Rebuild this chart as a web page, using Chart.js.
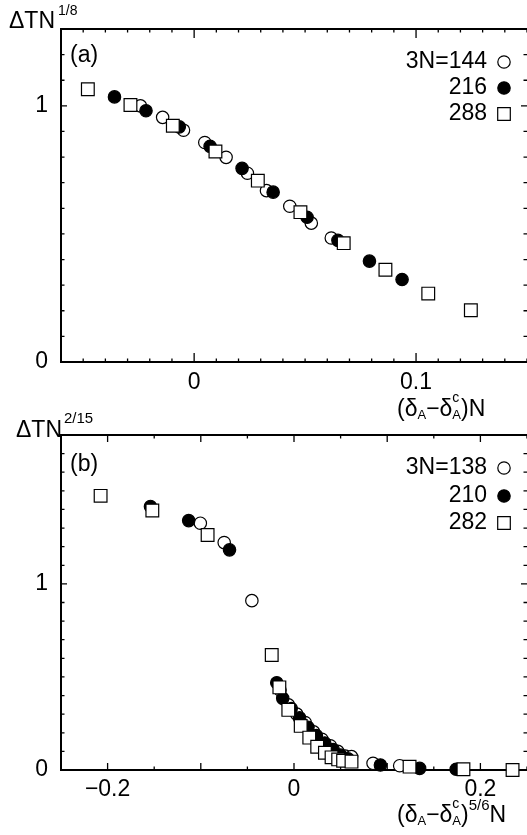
<!DOCTYPE html>
<html>
<head>
<meta charset="utf-8">
<script src="https://cdn.jsdelivr.net/npm/chart.js@4.4.1/dist/chart.umd.min.js"></script>
<style>
html, body { margin: 0; padding: 0; background: #fff; }
#wrap { position: relative; width: 527px; height: 835px; overflow: hidden; }
canvas { position: absolute; left: 0; }
#cA { top: 0; }
#cB { top: 400px; }
</style>
</head>
<body>
<div id="wrap">
  <canvas id="cA" width="527" height="425"></canvas>
  <canvas id="cB" width="527" height="435"></canvas>
</div>
<script>
// panel (a): 3N = 144, 216, 288
const a144x = [-0.0242, -0.0142, -0.0048, 0.0048, 0.0144, 0.024, 0.0326, 0.0431, 0.0528, 0.0618];
const a144y = [1.0, 0.955, 0.905, 0.857, 0.799, 0.737, 0.669, 0.608, 0.542, 0.484];
const a216x = [-0.0359, -0.0217, -0.0067, 0.0072, 0.0216, 0.0356, 0.0509, 0.0648, 0.079, 0.0937];
const a216y = [1.035, 0.981, 0.918, 0.842, 0.756, 0.663, 0.565, 0.475, 0.394, 0.322];
const a288x = [-0.0479, -0.0287, -0.0096, 0.0096, 0.0287, 0.0479, 0.0674, 0.0862, 0.1055, 0.1247];
const a288y = [1.065, 1.003, 0.922, 0.822, 0.708, 0.585, 0.464, 0.360, 0.267, 0.202];

// panel (b): 3N = 138, 210, 282
const b138x = [-0.1005, -0.0749, -0.0452, -0.015, -0.006, 0.003, 0.012, 0.021, 0.03, 0.039, 0.047, 0.055, 0.0617, 0.0848, 0.1134];
const b138y = [1.326, 1.222, 0.910, 0.43, 0.35, 0.30, 0.255, 0.205, 0.165, 0.13, 0.10, 0.075, 0.072, 0.036, 0.023];
const b210x = [-0.154, -0.113, -0.0692, -0.0185, -0.0121, -0.003, 0.006, 0.015, 0.024, 0.033, 0.042, 0.05, 0.058, 0.0927, 0.1348, 0.174];
const b210y = [1.416, 1.340, 1.183, 0.469, 0.385, 0.33, 0.28, 0.23, 0.185, 0.145, 0.11, 0.08, 0.06, 0.027, 0.009, 0.004];
const b282x = [-0.2075, -0.152, -0.0927, -0.0239, -0.0157, -0.0061, 0.0072, 0.0164, 0.0249, 0.0332, 0.0403, 0.0474, 0.0527, 0.0617, 0.124, 0.1818, 0.2345];
const b282y = [1.473, 1.394, 1.263, 0.618, 0.444, 0.323, 0.237, 0.174, 0.125, 0.093, 0.068, 0.057, 0.050, 0.045, 0.018, 0.004, 0];

// axes
const xRangeA = [-0.06, 0.15], yRangeA = [0, 1.3];
const xRangeB = [-0.25, 0.25], yRangeB = [0, 1.8];
const xLabelsA = [0, 0.1], yLabelsA = [0, 1];
const xLabelsB = [-0.2, 0, 0.2], yLabelsB = [0, 1];
const legendA = ["3N=144", "216", "288"];
const legendB = ["3N=138", "210", "282"];

const FONT = "'Liberation Sans', Arial, sans-serif";

const pts = (xs, ys) => xs.map((x, i) => ({ x: x, y: ys[i] }));
const near = (v, list) => list.some(l => Math.abs(v - l) < 1e-9);
const isMult = (v, m) => Math.abs(v / m - Math.round(v / m)) < 1e-6;
const fmt = v => (Math.abs(v) < 1e-12 ? "0" : String(+v.toFixed(3)).replace("-", "\u2212"));

function stepTicks(min, max, step) {
  const out = [];
  const n = Math.round((max - min) / step);
  for (let i = 0; i <= n; i++) out.push({ value: +(min + i * step).toFixed(6) });
  return out;
}

const styles = [
  { pointStyle: "circle", pointRadius: 6.2, backgroundColor: "#fff", order: 3 },
  { pointStyle: "circle", pointRadius: 6.2, backgroundColor: "#000", order: 2 },
  { pointStyle: "rect", pointRadius: 9, backgroundColor: "#fff", order: 1 }
];

function makeDatasets(series) {
  return series.map((d, i) => Object.assign({
    data: d,
    borderColor: "#000",
    borderWidth: 1.2,
    pointHoverRadius: styles[i].pointRadius,
    showLine: false,
    clip: false
  }, styles[i]));
}

function text(ctx, parts, x, base) {
  parts.forEach(p => {
    ctx.font = p.s + "px " + FONT;
    x += p.dx || 0;
    ctx.fillText(p.t, x, base + (p.dy || 0));
    if (!p.stay) x += ctx.measureText(p.t).width;
  });
}

// frame, inward ticks, legend and titles
const decor = {
  id: "decor",
  beforeDatasetsDraw(chart, args, o) {
    const ctx = chart.ctx, a = chart.chartArea;
    const xs = chart.scales.x, ys = chart.scales.y;
    ctx.save();
    ctx.strokeStyle = "#000";
    ctx.lineWidth = 1.3;
    ctx.beginPath();
    xs.ticks.forEach(t => {
      const p = xs.getPixelForValue(t.value);
      const L = isMult(t.value, o.xMajor) ? o.xMajLen : 3.5;
      ctx.moveTo(p, a.bottom); ctx.lineTo(p, a.bottom - L);
      ctx.moveTo(p, a.top); ctx.lineTo(p, a.top + L);
    });
    ys.ticks.forEach(t => {
      const p = ys.getPixelForValue(t.value);
      const L = isMult(t.value, 1) ? 6 : 3.5;
      ctx.moveTo(a.left, p); ctx.lineTo(a.left + L, p);
      ctx.moveTo(a.right, p); ctx.lineTo(a.right - L, p);
    });
    ctx.stroke();
    ctx.lineWidth = 2;
    ctx.beginPath();
    ctx.moveTo(a.right, a.top); ctx.lineTo(a.left, a.top);
    ctx.lineTo(a.left, a.bottom); ctx.lineTo(a.right, a.bottom);
    ctx.stroke();
    ctx.restore();
  },
  afterDraw(chart, args, o) {
    const ctx = chart.ctx;
    ctx.save();
    ctx.fillStyle = "#000";
    ctx.textBaseline = "alphabetic";
    ctx.textAlign = "left";
    text(ctx, o.yTitle, o.yTitlePos[0], o.yTitlePos[1]);
    text(ctx, o.xTitle, o.xTitlePos[0], o.xTitlePos[1]);
    ctx.font = "23px " + FONT;
    ctx.textBaseline = "middle";
    ctx.fillText(o.tag, 70, o.tagY);
    // legend
    ctx.textAlign = "right";
    o.legend.forEach((lab, i) => {
      const y = o.legendY[i];
      ctx.fillStyle = "#000";
      ctx.fillText(lab, 487, y);
      const st = styles[i];
      ctx.beginPath();
      if (st.pointStyle === "rect") ctx.rect(504 - 6.3, y - 6.3, 12.6, 12.6);
      else ctx.arc(504, y, 6.2, 0, Math.PI * 2);
      ctx.fillStyle = st.backgroundColor;
      ctx.fill();
      ctx.lineWidth = 1.2;
      ctx.strokeStyle = "#000";
      ctx.stroke();
    });
    ctx.restore();
  }
};

function makeChart(id, series, xr, yr, xStep, yStep, xLabels, yLabels, topPad, xH, xPad, extra) {
  return new Chart(document.getElementById(id), {
    type: "scatter",
    data: { datasets: makeDatasets(series) },
    options: {
      responsive: false,
      animation: false,
      devicePixelRatio: 1,
      layout: { autoPadding: false, padding: { top: topPad, left: 0, right: 0, bottom: 0 } },
      plugins: { legend: { display: false }, tooltip: { enabled: false }, decor: extra },
      events: [],
      scales: {
        x: {
          type: "linear", min: xr[0], max: xr[1],
          grid: { display: false }, border: { display: false },
          afterBuildTicks: s => { s.ticks = stepTicks(xr[0], xr[1], xStep); },
          afterFit: s => { s.height = xH; s.paddingLeft = 0; s.paddingRight = 0; },
          ticks: {
            autoSkip: false, maxRotation: 0, padding: xPad, color: "#000",
            font: { family: FONT, size: 23 },
            callback: v => (near(v, xLabels) ? fmt(v) : "")
          }
        },
        y: {
          type: "linear", min: yr[0], max: yr[1],
          grid: { display: false }, border: { display: false },
          afterBuildTicks: s => { s.ticks = stepTicks(yr[0], yr[1], yStep); },
          afterFit: s => { s.width = 61; s.paddingTop = 0; s.paddingBottom = 0; },
          ticks: {
            autoSkip: false, padding: 5, color: "#000",
            font: { family: FONT, size: 23 },
            callback: v => (near(v, yLabels) ? fmt(v) : "")
          }
        }
      }
    },
    plugins: [decor]
  });
}

makeChart("cA", [pts(a144x, a144y), pts(a216x, a216y), pts(a288x, a288y)],
  xRangeA, yRangeA, 0.01, 0.1, xLabelsA, yLabelsA, 29, 63, -1, {
    xMajor: 0.1, xMajLen: 9,
    tag: "(a)", tagY: 56,
    legend: legendA, legendY: [62, 88, 114],
    yTitle: [{ t: "\u0394TN", s: 23 }, { t: "1/8", s: 14, dy: -13, dx: 3 }],
    yTitlePos: [9, 28],
    xTitle: [{ t: "(\u03b4", s: 23 }, { t: "A", s: 13, dy: 3 }, { t: "\u2212\u03b4", s: 23 },
      { t: "c", s: 14, dy: -14, stay: true }, { t: "A", s: 13, dy: 3 }, { t: ")N", s: 23 }],
    xTitlePos: [397, 416]
  });

makeChart("cB", [pts(b138x, b138y), pts(b210x, b210y), pts(b282x, b282y)],
  xRangeB, yRangeB, 0.05, 0.1, xLabelsB, yLabelsB, 35, 65, -2, {
    xMajor: 0.1, xMajLen: 7,
    tag: "(b)", tagY: 65,
    legend: legendB, legendY: [68, 96, 123],
    yTitle: [{ t: "\u0394TN", s: 23 }, { t: "2/15", s: 15, dy: -14, dx: 2 }],
    yTitlePos: [16, 37],
    xTitle: [{ t: "(\u03b4", s: 23 }, { t: "A", s: 13, dy: 3 }, { t: "\u2212\u03b4", s: 23 },
      { t: "c", s: 14, dy: -14, stay: true }, { t: "A", s: 13, dy: 3 }, { t: ")", s: 23 },
      { t: "5/6", s: 15, dy: -12 }, { t: "N", s: 23 }],
    xTitlePos: [397, 422]
  });
</script>
</body>
</html>
